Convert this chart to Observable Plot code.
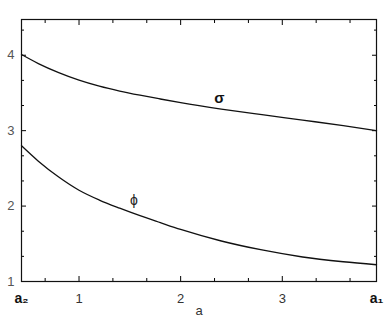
<!DOCTYPE html>
<html>
<head>
<meta charset="utf-8">
<script src="https://cdn.jsdelivr.net/npm/d3@7"></script>
<script src="https://cdn.jsdelivr.net/npm/@observablehq/plot@0.6"></script>
<style>
  html, body { margin: 0; padding: 0; background: #fff; }
  #chart { width: 390px; height: 323px; }
</style>
</head>
<body>
<div id="chart"></div>
<script>
// Edge values of the x range (a2 on the left, a1 on the right)
const a2 = 0.434;
const a1 = 3.927;

// sigma curve
const sigmaA = [0.434, 0.6, 0.8, 1.0, 1.2, 1.4, 1.6, 1.8, 2.0, 2.4, 2.8, 3.2, 3.6, 3.927];
const sigmaV = [4.01, 3.89, 3.77, 3.67, 3.59, 3.525, 3.47, 3.42, 3.372, 3.287, 3.212, 3.14, 3.067, 3.0];

// phi curve
const phiA = [0.434, 0.6, 0.8, 1.0, 1.2, 1.4, 1.6, 1.8, 2.0, 2.4, 2.8, 3.2, 3.6, 3.927];
const phiV = [2.80, 2.595, 2.385, 2.21, 2.08, 1.972, 1.872, 1.78, 1.69, 1.537, 1.418, 1.325, 1.262, 1.222];

// ticks
const xEdges = [a2, a1];
const xEdgeLabels = ["a\u2082", "a\u2081"];
const xMajor = [1, 2, 3];
const xLabels = ["1", "2", "3"];
const xMinor = [2/3, 4/3, 5/3, 7/3, 8/3, 10/3, 11/3];
const yMajor = [1, 2, 3, 4];
const yLabels = ["1", "2", "3", "4"];
const yMinor = [4/3, 5/3, 7/3, 8/3, 10/3, 11/3, 13/3];

// curve labels
const sigmaLabel = [{a: 2.38, v: 3.43, text: "\u03c3"}];
const phiLabel = [{a: 1.54, v: 2.076, text: "\u03d5"}];

const sigma = sigmaA.map((a, i) => ({a, v: sigmaV[i]}));
const phi = phiA.map((a, i) => ({a, v: phiV[i]}));

const xFmt = d => xLabels[xMajor.indexOf(d)];
const xEdgeFmt = d => xEdgeLabels[xEdges.indexOf(d)];
const yFmt = d => yLabels[yMajor.indexOf(d)];

const chart = Plot.plot({
  width: 390,
  height: 323,
  marginLeft: 21,
  marginRight: 14,
  marginTop: 19,
  marginBottom: 42,
  style: {fontFamily: "Liberation Sans, Arial, sans-serif", fontSize: "12px", background: "#fff"},
  x: {domain: [a2, a1]},
  y: {domain: [1, 4.474]},
  marks: [
    // inward ticks on all four sides
    Plot.axisX(xMajor, {anchor: "bottom", tickSize: -5, tickFormat: () => "", label: null}),
    Plot.axisX(xMinor, {anchor: "bottom", tickSize: -3, tickFormat: () => "", label: null}),
    Plot.axisX(xMajor, {anchor: "top", tickSize: -5, tickFormat: () => "", label: null}),
    Plot.axisX(xMinor, {anchor: "top", tickSize: -3, tickFormat: () => "", label: null}),
    Plot.axisY(yMajor.slice(1), {anchor: "left", tickSize: -5, tickFormat: () => "", label: null}),
    Plot.axisY(yMinor, {anchor: "left", tickSize: -3, tickFormat: () => "", label: null}),
    Plot.axisY(yMajor.slice(1), {anchor: "right", tickSize: -5, tickFormat: () => "", label: null}),
    Plot.axisY(yMinor, {anchor: "right", tickSize: -3, tickFormat: () => "", label: null}),
    // tick labels
    Plot.axisX(xMajor, {anchor: "bottom", tickSize: 0, tickPadding: 12, tickFormat: xFmt, fill: "#333", fontSize: 13,
      label: "a", labelAnchor: "center", labelArrow: "none", labelOffset: 33}),
    Plot.axisX(xEdges, {anchor: "bottom", tickSize: 0, tickPadding: 12, tickFormat: xEdgeFmt, fill: "#111", fontSize: 14,
      fontWeight: "bold", label: null}),
    Plot.axisY(yMajor, {anchor: "left", tickSize: 0, tickPadding: 7, tickFormat: yFmt, fill: "#555", fontSize: 13, label: null}),
    Plot.frame({stroke: "#111", strokeWidth: 1.2}),
    Plot.line(sigma, {x: "a", y: "v", curve: "monotone-x", stroke: "#111", strokeWidth: 1.3}),
    Plot.line(phi, {x: "a", y: "v", curve: "monotone-x", stroke: "#111", strokeWidth: 1.3}),
    Plot.text(sigmaLabel, {x: "a", y: "v", text: "text", fontWeight: "bold", fontSize: 15, fill: "#111"}),
    Plot.text(phiLabel, {x: "a", y: "v", text: "text", fontSize: 14, fill: "#222"})
  ]
});
document.getElementById("chart").appendChild(chart);
</script>
</body>
</html>
